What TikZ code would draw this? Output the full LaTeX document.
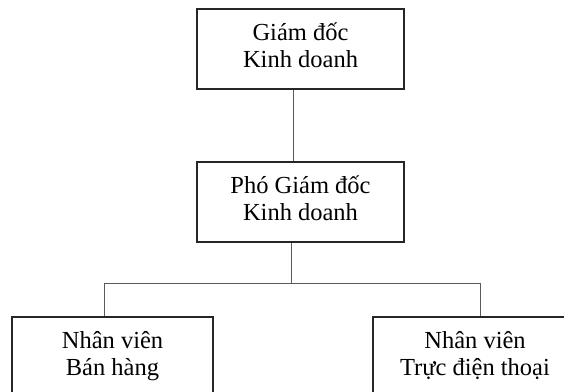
\documentclass[tikz,border=0pt]{standalone}
\usepackage{fontspec}
\setmainfont{Liberation Serif}
\usetikzlibrary{positioning,calc}

\begin{document}
\begin{tikzpicture}[x=1pt,y=-1pt,
  khung/.style={draw=black!85,line width=1.2pt,minimum width=207pt,minimum height=80pt,
    inner sep=0pt,align=center,text depth=8pt,font=\fontsize{24.5}{27}\selectfont},
  noi/.style={draw=black!65,line width=0.9pt}]
\useasboundingbox (0,0) rectangle (564,391);
\node[khung] (gd) at (300.5,49) {Giám đốc\\Kinh doanh};
\node[khung] (pgd) at (300.5,202) {Phó Giám đốc\\Kinh doanh};
\node[khung,minimum width=201pt] (nvbh) at (112.5,357) {Nhân viên\\Bán hàng};
\node[khung,minimum width=204pt] (nvtdt) at (475,357) {Nhân viên\\Trực điện thoại};
% noi cac cap
\draw[noi] ($(gd.south)+(-7.5,0)$) -- ($(pgd.north)+(-7.5,0)$);
\coordinate (nhanh) at ($(pgd.south)+(-9.5,41)$);
\draw[noi] ($(pgd.south)+(-9.5,0)$) -- (nhanh);
\draw[noi] ($(nvbh.north)+(-8.5,0)$) |- (nhanh) -| ($(nvtdt.north)+(5,0)$);
\end{tikzpicture}
\end{document}
